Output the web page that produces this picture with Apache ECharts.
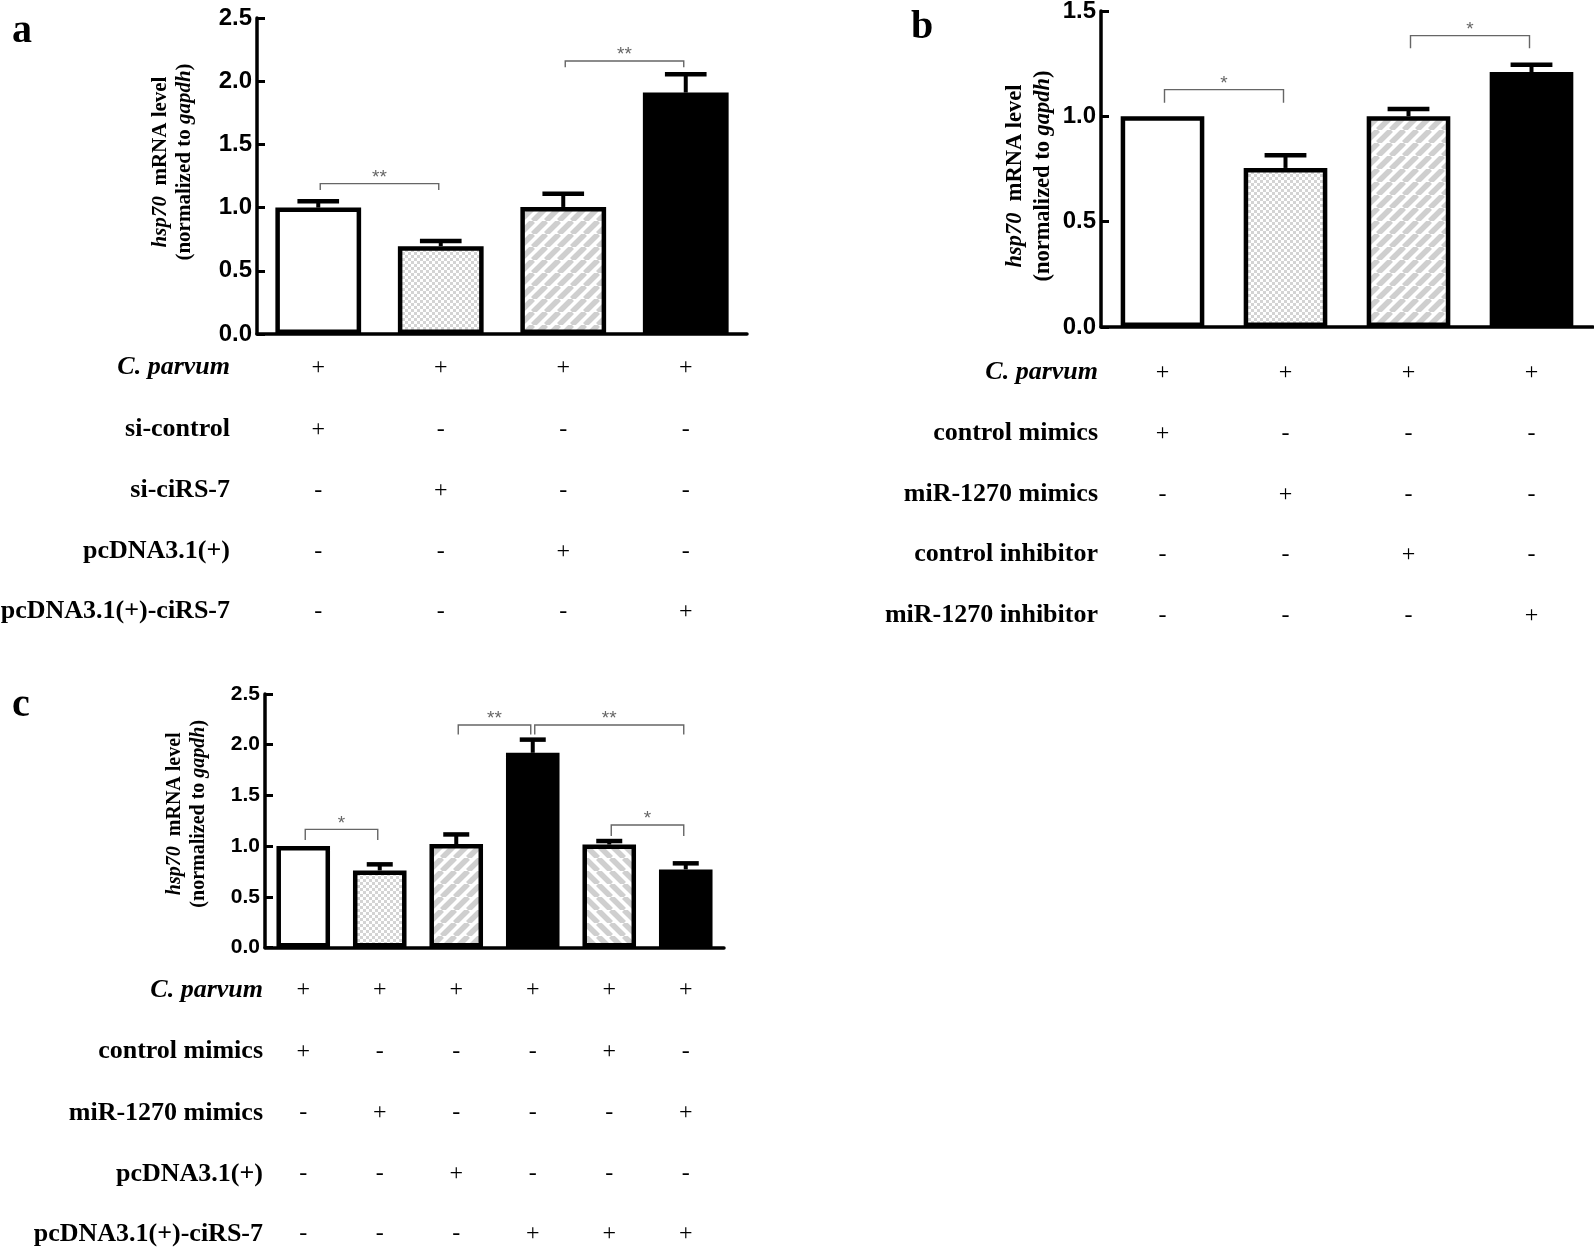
<!DOCTYPE html>
<html><head><meta charset="utf-8">
<script src="https://cdn.jsdelivr.net/npm/echarts@6/dist/echarts.min.js"></script>
<style>html,body{margin:0;padding:0;background:#fff}#c{width:1594px;height:1247px}</style>
</head><body><div id="c"></div>
<script>
// ---------------- DATA ----------------
// Panel a
const groupsA = ['A1','A2','A3','A4'];
const meanA = [1.00, 0.695, 1.005, 1.91];
const errA  = [0.05, 0.04, 0.105, 0.145];
const sigA  = [[0,1,1.19,1.14,'**'],[2,3,2.16,2.11,'**']];
const yTicksA = [0,0.5,1.0,1.5,2.0,2.5];
const rowLabelsA = ['C. parvum','si-control','si-ciRS-7','pcDNA3.1(+)','pcDNA3.1(+)-ciRS-7'];
const signsA = [
  ['+','+','+','+'],
  ['+','-','-','-'],
  ['-','+','-','-'],
  ['-','-','+','-'],
  ['-','-','-','+']
];
// Panel b
const groupsB = ['B1','B2','B3','B4'];
const meanB = [1.00, 0.755, 1.00, 1.21];
const errB  = [0.0, 0.06, 0.035, 0.035];
const sigB  = [[0,1,1.127,1.065,'*'],[2,3,1.383,1.323,'*']];
const yTicksB = [0,0.5,1.0,1.5];
const rowLabelsB = ['C. parvum','control mimics','miR-1270 mimics','control inhibitor','miR-1270 inhibitor'];
const signsB = [
  ['+','+','+','+'],
  ['+','-','-','-'],
  ['-','+','-','-'],
  ['-','-','+','-'],
  ['-','-','-','+']
];
// Panel c
const groupsC = ['C1','C2','C3','C4','C5','C6'];
const meanC = [1.00, 0.76, 1.02, 1.92, 1.015, 0.77];
const errC  = [0.0, 0.06, 0.095, 0.13, 0.035, 0.06];
const sigC  = [[0,1,1.165,1.06,'*'],[2,3,2.195,2.10,'**'],[3,5,2.195,2.10,'**'],[4,5,1.208,1.10,'*']];
const yTicksC = [0,0.5,1.0,1.5,2.0,2.5];
const rowLabelsC = ['C. parvum','control mimics','miR-1270 mimics','pcDNA3.1(+)','pcDNA3.1(+)-ciRS-7'];
const signsC = [
  ['+','+','+','+','+','+'],
  ['+','-','-','-','+','-'],
  ['-','+','-','-','-','+'],
  ['-','-','+','-','-','-'],
  ['-','-','-','+','+','+']
];

// ---------------- STYLES ----------------
function makeStripe(dir){
  const s = 13, c = document.createElement('canvas');
  c.width = s; c.height = s;
  const g = c.getContext('2d');
  g.fillStyle = '#fff'; g.fillRect(0,0,s,s);
  g.strokeStyle = '#cfcfcf'; g.lineWidth = 5.5;
  for (let k=-1;k<=1;k++){
    g.beginPath();
    if (dir === '/') { g.moveTo(k*s, s); g.lineTo(k*s + s, 0); }
    else { g.moveTo(k*s, 0); g.lineTo(k*s + s, s); }
    g.stroke();
  }
  return {image: c, repeat: 'repeat'};
}
function makeCheck(){
  const c = document.createElement('canvas');
  c.width = 6; c.height = 6;
  const g = c.getContext('2d');
  g.fillStyle = '#fff'; g.fillRect(0,0,6,6);
  g.fillStyle = '#d4d4d4'; g.fillRect(0,0,3,3); g.fillRect(3,3,3,3);
  return {image: c, repeat: 'repeat'};
}
const FILL = {white:'#ffffff', check: makeCheck(), fwd: makeStripe('/'), back: makeStripe('\\'), black:'#000000'};
const fillsA = ['white','check','fwd','black'];
const fillsB = ['white','check','fwd','black'];
const fillsC = ['white','check','fwd','black','back','black'];

const SERIF = 'Liberation Serif, Times New Roman, serif';
const SANS = 'Liberation Sans, Arial, sans-serif';

// ---------------- BUILDERS ----------------
const option = {
  backgroundColor: '#fff',
  animation: false,
  grid: [], xAxis: [], yAxis: [], series: [], graphic: []
};

function errRender(params, api){
  const x = api.value(0), m = api.value(1), e = api.value(2);
  if (!(e > 0)) return {type:'group', children:[]};
  const base = api.coord([x, m]);
  const top = api.coord([x, m + e]);
  const band = api.size([1,0])[0];
  const cw = band * 0.17;
  return {type:'group', children:[
    {type:'line', shape:{x1:base[0], y1:base[1], x2:top[0], y2:top[1]}, style:{stroke:'#000', lineWidth:4}},
    {type:'line', shape:{x1:top[0]-cw, y1:top[1], x2:top[0]+cw, y2:top[1]}, style:{stroke:'#000', lineWidth:4.5}}
  ]};
}
function makeSigRender(sig){
  return function(params, api){
    const d = sig[params.dataIndex];
    const a = api.coord([d[0], d[2]]), b = api.coord([d[1], d[2]]);
    const ad = api.coord([d[0], d[3]]), bd = api.coord([d[1], d[3]]);
    const x1 = a[0] + 2, x2 = b[0] - 2;
    return {type:'group', children:[
      {type:'polyline', shape:{points:[[x1, ad[1]],[x1, a[1]],[x2, b[1]],[x2, bd[1]]]},
        style:{stroke:'#666', lineWidth:1.4, fill:null}},
      {type:'text', style:{text:d[4], x:(x1+x2)/2, y:a[1]-6, align:'center', verticalAlign:'middle',
        font:'19px ' + SANS, fill:'#666'}}
    ]};
  };
}

function addPanel(p){
  const gi = option.grid.length;
  option.grid.push({left:p.left, right:p.right, top:p.top, bottom:p.bottom, containLabel:false, outerBoundsMode:'none'});
  const xi0 = option.xAxis.length;
  option.xAxis.push({
    type:'category', gridIndex:gi, data:p.groups, boundaryGap:true,
    axisLine:{show:true, lineStyle:{color:'#000', width:3.5}},
    axisTick:{show:false}, axisLabel:{show:false}, splitLine:{show:false}
  });
  p.rowLabels.forEach((lab, r) => {
    const isItalic = r === 0;
    option.xAxis.push({
      type:'category', gridIndex:gi, data:p.groups, position:'bottom', offset:p.rowOffsets[r],
      axisLine:{show:false}, axisTick:{show:false}, splitLine:{show:false},
      axisLabel:{show:true, interval:0, margin:0, verticalAlign:'middle',
        formatter:(v, i) => p.signs[r][i], fontFamily:SERIF, fontSize:24, color:'#000'},
      name: lab, nameLocation:'start', nameGap:p.nameGap,
      nameTextStyle:{fontFamily:SERIF, fontSize:26, fontWeight:'bold', fontStyle:isItalic?'italic':'normal',
        color:'#000', align:'right', verticalAlign:'middle'}
    });
  });
  const yi = option.yAxis.length;
  option.yAxis.push({
    type:'value', gridIndex:gi, min:p.ticks[0], max:p.ticks[p.ticks.length-1], interval:p.ticks[1]-p.ticks[0],
    axisLine:{show:true, lineStyle:{color:'#000', width:3.5}},
    axisTick:{show:true, inside:true, length:8, lineStyle:{color:'#000', width:3}},
    axisLabel:{show:true, margin:5, fontFamily:SANS, fontWeight:'bold', fontSize:p.tickFont, color:'#000',
      formatter:v => v.toFixed(1)},
    splitLine:{show:false},
    name:'{i|hsp70}{n|  mRNA level}\n{n|(normalized to }{i|gapdh}{n|)}',
    nameLocation:'middle', nameRotate:90, nameGap:p.titleGap,
    nameTextStyle:{color:'#000', lineHeight:p.titleLH, padding:p.titlePad,
      rich:{
        i:{fontFamily:SERIF, fontSize:p.titleFont, fontWeight:'bold', fontStyle:'italic', color:'#000'},
        n:{fontFamily:SERIF, fontSize:p.titleFont, fontWeight:'bold', color:'#000'}
      }}
  });
  option.series.push({
    type:'bar', xAxisIndex:xi0, yAxisIndex:yi, barWidth:p.barWidth, z:2,
    data:p.mean.map((v, i) => ({value:v, itemStyle:{color:FILL[p.fills[i]]}})),
    itemStyle:{borderColor:'#000', borderWidth:4.5}
  });
  option.series.push({
    type:'custom', xAxisIndex:xi0, yAxisIndex:yi, z:3,
    renderItem: errRender,
    data:p.mean.map((v, i) => [i, v, p.err[i]])
  });
  option.series.push({
    type:'custom', xAxisIndex:xi0, yAxisIndex:yi, z:3,
    renderItem: makeSigRender(p.sig),
    data:p.sig.map(d => [d[0], d[2]])
  });
}

addPanel({left:257, right:847, top:18, bottom:913, groups:groupsA, mean:meanA, err:errA, sig:sigA, ticks:yTicksA,
  fills:fillsA, rowLabels:rowLabelsA, signs:signsA, rowOffsets:[33.5,95.5,156.5,217.5,277.5], nameGap:27,
  barWidth:'70%', tickFont:24, titleFont:21, titleLH:24, titleGap:60, titlePad:[0,0,0,28]});
addPanel({left:1101, right:1, top:11, bottom:920, groups:groupsB, mean:meanB, err:errB, sig:sigB, ticks:yTicksB,
  fills:fillsB, rowLabels:rowLabelsB, signs:signsB, rowOffsets:[45.5,106.5,167.5,227.5,288.5], nameGap:3,
  barWidth:'68%', tickFont:24, titleFont:22.5, titleLH:28, titleGap:44, titlePad:[0,14,0,0]});
addPanel({left:265, right:870, top:694, bottom:299.5, groups:groupsC, mean:meanC, err:errC, sig:sigC, ticks:yTicksC,
  fills:fillsC, rowLabels:rowLabelsC, signs:signsC, rowOffsets:[42.5,104,165.5,226.5,286.5], nameGap:2,
  barWidth:'70%', tickFont:21, titleFont:20, titleLH:24, titleGap:54, titlePad:[0,0,0,14]});

option.graphic = [
  {type:'text', left:12, top:12, style:{text:'a', font:'bold 40px ' + SERIF, fill:'#000'}},
  {type:'text', left:911, top:8, style:{text:'b', font:'bold 40px ' + SERIF, fill:'#000'}},
  {type:'text', left:12, top:686, style:{text:'c', font:'bold 40px ' + SERIF, fill:'#000'}}
];

const chart = echarts.init(document.getElementById('c'), null, {renderer:'canvas'});
chart.setOption(option);
</script>
</body></html>
